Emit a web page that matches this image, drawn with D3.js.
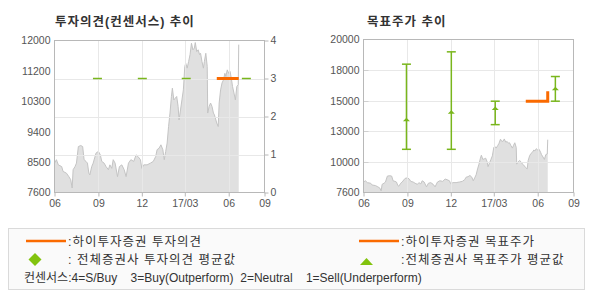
<!DOCTYPE html>
<html>
<head>
<meta charset="utf-8">
<script src="https://cdn.jsdelivr.net/npm/d3@7"></script>
<style>
  body { margin: 0; background: #fff; }
  text { font-family: "Liberation Sans", "Noto Sans CJK KR", sans-serif; }
</style>
</head>
<body>
<script>
// Stock price (samples)
var priceDates = [
  "2016-06-01","2016-06-05","2016-06-09","2016-06-16","2016-06-19","2016-06-26","2016-07-01","2016-07-05",
  "2016-07-08","2016-07-10","2016-07-14","2016-07-17","2016-07-21","2016-07-26","2016-07-30","2016-08-02",
  "2016-08-06","2016-08-09","2016-08-12","2016-08-14","2016-08-18","2016-08-21","2016-08-27","2016-09-01",
  "2016-09-05","2016-09-08","2016-09-13","2016-09-17","2016-09-22","2016-09-25","2016-09-29","2016-10-02",
  "2016-10-06","2016-10-11","2016-10-15","2016-10-20","2016-10-25","2016-10-29","2016-11-03","2016-11-08",
  "2016-11-14","2016-11-19","2016-11-23","2016-11-28","2016-12-01","2016-12-05","2016-12-12","2016-12-19",
  "2016-12-25","2016-12-30","2017-01-02","2017-01-06","2017-01-10","2017-01-14","2017-01-17","2017-01-20",
  "2017-01-23","2017-01-26","2017-01-29","2017-02-01","2017-02-03","2017-02-06","2017-02-09","2017-02-12",
  "2017-02-15","2017-02-17","2017-02-20","2017-02-23","2017-02-26","2017-03-01","2017-03-03","2017-03-06",
  "2017-03-09","2017-03-12","2017-03-15","2017-03-18","2017-03-21","2017-03-23","2017-03-26","2017-03-29",
  "2017-04-01","2017-04-03","2017-04-06","2017-04-09","2017-04-11","2017-04-14","2017-04-17","2017-04-18",
  "2017-04-21","2017-04-24","2017-04-27","2017-04-30","2017-05-02","2017-05-07","2017-05-10","2017-05-12",
  "2017-05-15","2017-05-18","2017-05-21","2017-05-24","2017-05-26","2017-05-29","2017-06-01","2017-06-04",
  "2017-06-07","2017-06-09","2017-06-12","2017-06-15","2017-06-18","2017-06-21","2017-06-22"
];
var priceValues = [
  8450, 8550, 8400, 8350, 8210, 8160, 8060, 7970,
  7730, 8260, 8350, 8450, 8930, 8960, 8930, 8550,
  8500, 8450, 8160, 8110, 8350, 8450, 8740, 8790,
  8690, 8500, 8450, 8350, 8260, 8400, 8300, 8550,
  8450, 8060, 8350, 8400, 8260, 8060, 8450, 8550,
  8500, 8690, 8640, 8550, 8300, 8400, 8400, 8450,
  8500, 8640, 8840, 8880, 8980, 8840, 8550, 8790,
  9030, 9510, 9900, 10380, 10620, 10280, 10330, 10380,
  10090, 9700, 9990, 10280, 10570, 11250, 11340, 11200,
  11390, 11590, 11920, 11730, 11780, 11940, 11680, 11730,
  11590, 11630, 11390, 11200, 11390, 11630, 11250, 9900,
  10090, 10190, 10090, 9900, 9850, 9610, 9510, 10190,
  10570, 10770, 10860, 11050, 10960, 11150, 11050, 11100,
  10860, 10670, 10480, 10280, 10670, 10720, 11880
];

// Hi Investment opinion and target price
var houseDates = ["2017-05-07", "2017-06-22"];
var houseOpinion = [3, 3];
var houseTarget = [15000, 15800];

// Consensus (all brokers)
var consensusDates = ["2016-08-30", "2016-12-02", "2017-03-04", "2017-07-08"];
var consensusOpinion = [3, 3, 3, 3];
var targetLow = [11100, 11100, 13100, 15000];
var targetAvg = [13500, 14100, 14400, 16000];
var targetHigh = [18000, 19000, 15000, 17000];

// Axis ticks
var xTickDates = ["2016-06-01", "2016-09-01", "2016-12-01", "2017-03-01", "2017-06-01", "2017-08-15"];
var xTickLabels = ["06", "09", "12", "17/03", "06", "09"];
var leftPriceTicks = [7600, 8480, 9360, 10240, 11120, 12000];
var leftPriceLabels = ["7600", "8500", "9400", "10300", "11200", "12000"];
var opinionTicks = [0, 1, 2, 3, 4];
var rightPriceTicks = [7600, 10080, 12560, 15040, 17520, 20000];
var rightPriceLabels = ["7600", "10000", "13000", "15000", "18000", "20000"];

var parseDate = d3.timeParse("%Y-%m-%d");
var prices = priceDates.map((d, i) => ({ date: parseDate(d), value: priceValues[i] }));

var green = "#79b61c";
var orange = "#fa6a00";
var frameColor = "#b8b8b8";
var gridColor = "#e8e8e8";
var labelColor = "#555";

var svg = d3.select("body")
  .append("svg")
  .attr("width", 590)
  .attr("height", 300);

// Common chart frame: price area, vertical grid, axes
function drawFrame(p, yScale, yTicks, yLabels, title) {
  var g = svg.append("g");

  var xScale = d3.scaleTime()
    .domain([parseDate("2016-06-01"), parseDate("2017-08-15")])
    .range([p.x0, p.x1]);

  g.append("text")
    .attr("x", p.titleX)
    .attr("y", 26)
    .attr("font-size", "12.5px")
    .attr("font-weight", "bold")
    .attr("letter-spacing", "1px")
    .attr("fill", "#333")
    .text(title);

  // price area
  var area = d3.area()
    .x(d => xScale(d.date))
    .y0(p.y1)
    .y1(d => yScale(d.value));
  var line = d3.line()
    .x(d => xScale(d.date))
    .y(d => yScale(d.value));

  g.append("path")
    .datum(prices)
    .attr("d", area)
    .attr("fill", "#e0e0e0");
  g.append("path")
    .datum(prices)
    .attr("d", line)
    .attr("fill", "none")
    .attr("stroke", "#c4c4c4")
    .attr("stroke-width", 1);

  // vertical grid over the area
  g.selectAll(".vgrid")
    .data(xTickDates.slice(1, 5))
    .enter()
    .append("line")
    .attr("x1", d => Math.round(xScale(parseDate(d))) + 0.5)
    .attr("x2", d => Math.round(xScale(parseDate(d))) + 0.5)
    .attr("y1", p.y0)
    .attr("y2", p.y1)
    .attr("stroke", gridColor);

  // bottom axis
  var bottomAxis = d3.axisBottom(xScale)
    .tickValues(xTickDates.map(parseDate))
    .tickFormat((d, i) => xTickLabels[i])
    .tickSize(4)
    .tickPadding(3);
  var xAxis = g.append("g")
    .attr("transform", `translate(0, ${p.y1})`)
    .call(bottomAxis);
  xAxis.select(".domain").remove();
  xAxis.selectAll("line").attr("stroke", frameColor);
  xAxis.selectAll("text")
    .attr("font-size", "10.5px")
    .attr("fill", labelColor)
    .style("font-family", "'Liberation Sans', sans-serif");

  // left axis
  var leftAxis = d3.axisLeft(yScale)
    .tickValues(yTicks)
    .tickFormat((d, i) => yLabels[i])
    .tickSize(0)
    .tickPadding(4);
  var yAxis = g.append("g")
    .attr("transform", `translate(${p.x0}, 0)`)
    .call(leftAxis);
  yAxis.select(".domain").remove();
  yAxis.selectAll("text")
    .attr("font-size", "10.5px")
    .attr("fill", labelColor)
    .style("font-family", "'Liberation Sans', sans-serif");

  return { g: g, x: xScale };
}

function drawHGrid(g, p, values, yScale) {
  g.append("g")
    .selectAll("line")
    .data(values)
    .enter()
    .append("line")
    .attr("x1", p.x0)
    .attr("x2", p.x1)
    .attr("y1", d => Math.round(yScale(d)) + 0.5)
    .attr("y2", d => Math.round(yScale(d)) + 0.5)
    .attr("stroke", gridColor);
}

function drawBorder(g, p) {
  g.append("rect")
    .attr("x", p.x0)
    .attr("y", p.y0)
    .attr("width", p.x1 - p.x0)
    .attr("height", p.y1 - p.y0)
    .attr("fill", "none")
    .attr("stroke", frameColor);
}

// ---------- Left chart: opinion ----------
var lp = { x0: 54.5, x1: 264.5, y0: 40.5, y1: 192.5, titleX: 55 };
var yLeftPrice = d3.scaleLinear().domain([7600, 12000]).range([lp.y1, lp.y0]);
var yOpinion = d3.scaleLinear().domain([0, 4]).range([lp.y1, lp.y0]);

var left = drawFrame(lp, yLeftPrice, leftPriceTicks, leftPriceLabels, "투자의견(컨센서스) 추이");
drawHGrid(left.g, lp, [1, 2, 3], yOpinion);

var rightAxis = d3.axisRight(yOpinion)
  .tickValues(opinionTicks)
  .tickFormat(d3.format("d"))
  .tickSize(4)
  .tickPadding(2);
var opAxis = left.g.append("g")
  .attr("transform", `translate(${lp.x1}, 0)`)
  .call(rightAxis);
opAxis.select(".domain").remove();
opAxis.selectAll("line").attr("stroke", frameColor);
opAxis.selectAll("text")
  .attr("font-size", "10.5px")
  .attr("fill", labelColor)
  .style("font-family", "'Liberation Sans', sans-serif");

drawBorder(left.g, lp);

// consensus dashes
left.g.selectAll(".cons")
  .data(consensusDates)
  .enter()
  .append("line")
  .attr("x1", d => left.x(parseDate(d)) - 4.5)
  .attr("x2", d => left.x(parseDate(d)) + 4.5)
  .attr("y1", (d, i) => yOpinion(consensusOpinion[i]))
  .attr("y2", (d, i) => yOpinion(consensusOpinion[i]))
  .attr("stroke", green)
  .attr("stroke-width", 1.5);

// house opinion
left.g.append("path")
  .datum(houseDates.map((d, i) => ({ date: parseDate(d), value: houseOpinion[i] })))
  .attr("d", d3.line().x(d => left.x(d.date)).y(d => yOpinion(d.value)))
  .attr("fill", "none")
  .attr("stroke", orange)
  .attr("stroke-width", 3);

// ---------- Right chart: target price ----------
var rp = { x0: 363.5, x1: 573.5, y0: 39.5, y1: 192.5, titleX: 367 };
var yRightPrice = d3.scaleLinear().domain([7600, 20000]).range([rp.y1, rp.y0]);

var right = drawFrame(rp, yRightPrice, rightPriceTicks, rightPriceLabels, "목표주가 추이");
drawHGrid(right.g, rp, rightPriceTicks.slice(1, 5), yRightPrice);

// small inner ticks on left axis
right.g.append("g")
  .selectAll("line")
  .data(rightPriceTicks.slice(1, 5))
  .enter()
  .append("line")
  .attr("x1", rp.x0)
  .attr("x2", rp.x0 + 5)
  .attr("y1", d => Math.round(yRightPrice(d)) + 0.5)
  .attr("y2", d => Math.round(yRightPrice(d)) + 0.5)
  .attr("stroke", "#d0d0d0");

drawBorder(right.g, rp);

// consensus target range bars
var bars = right.g.selectAll(".bar")
  .data(consensusDates)
  .enter()
  .append("g");

bars.append("line")
  .attr("x1", d => right.x(parseDate(d)))
  .attr("x2", d => right.x(parseDate(d)))
  .attr("y1", (d, i) => yRightPrice(targetHigh[i]))
  .attr("y2", (d, i) => yRightPrice(targetLow[i]))
  .attr("stroke", green)
  .attr("stroke-width", 1.5);

bars.append("line")
  .attr("x1", d => right.x(parseDate(d)) - 4.5)
  .attr("x2", d => right.x(parseDate(d)) + 4.5)
  .attr("y1", (d, i) => yRightPrice(targetHigh[i]))
  .attr("y2", (d, i) => yRightPrice(targetHigh[i]))
  .attr("stroke", green)
  .attr("stroke-width", 1.5);

bars.append("line")
  .attr("x1", d => right.x(parseDate(d)) - 4.5)
  .attr("x2", d => right.x(parseDate(d)) + 4.5)
  .attr("y1", (d, i) => yRightPrice(targetLow[i]))
  .attr("y2", (d, i) => yRightPrice(targetLow[i]))
  .attr("stroke", green)
  .attr("stroke-width", 1.5);

bars.append("path")
  .attr("d", (d, i) => {
    var cx = right.x(parseDate(d));
    var cy = yRightPrice(targetAvg[i]);
    return `M${cx - 3.5},${cy + 1.5}L${cx + 3.5},${cy + 1.5}L${cx},${cy - 2}Z`;
  })
  .attr("fill", green);

// house target price
right.g.append("path")
  .datum(houseDates.map((d, i) => ({ date: parseDate(d), value: houseTarget[i] })))
  .attr("d", d3.line().x(d => right.x(d.date)).y(d => yRightPrice(d.value)).curve(d3.curveStepAfter))
  .attr("fill", "none")
  .attr("stroke", orange)
  .attr("stroke-width", 3);

// ---------- Legend ----------
var legend = svg.append("g");

legend.append("rect")
  .attr("x", 8.5)
  .attr("y", 228.5)
  .attr("width", 576)
  .attr("height", 61)
  .attr("fill", "#fafafa")
  .attr("stroke", "#dadada");

legend.append("line")
  .attr("x1", 26).attr("x2", 66)
  .attr("y1", 241).attr("y2", 241)
  .attr("stroke", orange)
  .attr("stroke-width", 2.5);
legend.append("line")
  .attr("x1", 359).attr("x2", 399)
  .attr("y1", 241).attr("y2", 241)
  .attr("stroke", orange)
  .attr("stroke-width", 2.5);

legend.append("path")
  .attr("d", "M35,253L41.5,259.5L35,266L28.5,259.5Z")
  .attr("fill", "#82c30e");
legend.append("path")
  .attr("d", "M360,265L373,265L366.5,258Z")
  .attr("fill", "#82c30e");

var legendTexts = [
  { x: 68, y: 245.5, t: ":하이투자증권 투자의견" },
  { x: 401, y: 245.5, t: ":하이투자증권 목표주가" },
  { x: 68, y: 264, t: ": 전체증권사 투자의견 평균값" },
  { x: 401, y: 264, t: ":전체증권사 목표주가 평균값" }
];
legend.selectAll(".lt")
  .data(legendTexts)
  .enter()
  .append("text")
  .attr("x", d => d.x)
  .attr("y", d => d.y)
  .attr("font-size", "12.5px")
  .attr("letter-spacing", "1px")
  .attr("fill", "#333")
  .text(d => d.t);

legend.append("text")
  .attr("x", 24)
  .attr("y", 282)
  .attr("font-size", "12px")
  .attr("fill", "#333")
  .style("white-space", "pre")
  .text("컨센서스:4=S/Buy    3=Buy(Outperform)  2=Neutral    1=Sell(Underperform)");
</script>
</body>
</html>
